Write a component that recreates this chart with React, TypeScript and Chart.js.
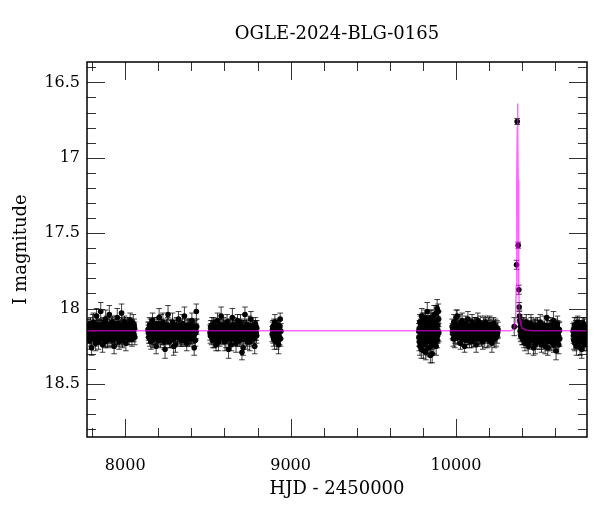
import React, { useEffect, useRef } from "react";
import { Chart, registerables } from "chart.js";

Chart.register(...registerables);

const TITLE = "OGLE-2024-BLG-0165";
const X_LABEL = "HJD - 2450000";
const Y_LABEL = "I magnitude";
const X_MIN = 7769;
const X_MAX = 10792;
const Y_MIN = 16.365;
const Y_MAX = 18.852;
const X_MAJOR = [8000, 9000, 10000];
const Y_MAJOR = [16.5, 17, 17.5, 18, 18.5];

type P = [number, number, number]; // [HJD-2450000, I mag, error]

const season1: P[] = [
  [7772,18.16,0.04],[7775,18.12,0.05],[7779,18.19,0.04],[7783,18.14,0.05],[7786,18.21,0.06],[7790,18.10,0.04],
  [7794,18.17,0.05],[7797,18.26,0.05],[7801,18.13,0.04],[7805,18.18,0.05],[7808,18.09,0.06],[7812,18.15,0.04],
  [7816,18.20,0.05],[7819,18.12,0.04],[7823,18.16,0.05],[7827,18.05,0.05],[7830,18.19,0.04],[7834,18.14,0.05],
  [7838,18.22,0.05],[7841,18.11,0.04],[7845,18.17,0.06],[7849,18.13,0.05],[7852,18.02,0.06],[7856,18.18,0.04],
  [7860,18.15,0.05],[7863,18.24,0.05],[7867,18.10,0.04],[7871,18.16,0.05],[7874,18.19,0.06],[7878,18.12,0.04],
  [7882,18.07,0.06],[7885,18.17,0.05],[7889,18.14,0.04],[7893,18.21,0.05],[7896,18.11,0.05],[7900,18.16,0.04],
  [7904,18.04,0.06],[7908,18.18,0.05],[7911,18.13,0.04],[7915,18.20,0.05],[7919,18.15,0.05],[7922,18.09,0.04],
  [7926,18.17,0.06],[7930,18.12,0.05],[7933,18.25,0.05],[7937,18.14,0.04],[7941,18.19,0.05],[7944,18.10,0.05],
  [7948,18.16,0.04],[7952,18.06,0.06],[7955,18.18,0.05],[7959,18.13,0.04],[7963,18.22,0.05],[7967,18.15,0.05],
  [7970,18.11,0.04],[7974,18.17,0.05],[7978,18.03,0.06],[7981,18.20,0.05],[7985,18.14,0.04],[7989,18.12,0.05],
  [7992,18.18,0.05],[7996,18.09,0.04],[8000,18.16,0.06],[8004,18.23,0.05],[8007,18.13,0.04],[8011,18.15,0.05],
  [8015,18.19,0.05],[8019,18.11,0.04],[8022,18.17,0.05],[8026,18.14,0.06],[8030,18.08,0.05],[8034,18.18,0.04],
  [8037,18.12,0.05],[8041,18.20,0.05],[8045,18.15,0.04],[8049,18.10,0.06],[8052,18.17,0.05],[8056,18.13,0.04],
  [7777,18.18,0.05],[7781,18.11,0.04],[7788,18.15,0.05],[7792,18.20,0.05],[7799,18.16,0.04],[7803,18.10,0.06],
  [7810,18.19,0.05],[7814,18.13,0.04],[7821,18.23,0.05],[7825,18.15,0.05],[7832,18.11,0.04],[7836,18.17,0.06],
  [7843,18.14,0.05],[7847,18.20,0.04],[7854,18.12,0.05],[7858,18.16,0.05],[7865,18.19,0.04],[7869,18.13,0.06],
  [7876,18.15,0.05],[7880,18.22,0.04],[7887,18.10,0.05],[7891,18.17,0.05],[7898,18.14,0.04],[7902,18.19,0.06],
  [7906,18.12,0.05],[7913,18.16,0.04],[7917,18.11,0.05],[7924,18.21,0.05],[7928,18.15,0.04],[7935,18.18,0.06],
  [7939,18.12,0.05],[7946,18.14,0.04],[7950,18.20,0.05],[7957,18.16,0.05],[7961,18.10,0.04],[7965,18.18,0.06],
  [7972,18.13,0.05],[7976,18.15,0.04],[7983,18.21,0.05],[7987,18.11,0.05],[7994,18.17,0.04],[7998,18.13,0.06],
  [8002,18.19,0.05],[8009,18.14,0.04],[8013,18.11,0.05],[8017,18.16,0.05],[8024,18.20,0.04],[8028,18.12,0.06],
  [8032,18.15,0.05],[8039,18.18,0.04],[8043,18.13,0.05],[8047,18.16,0.05],[8054,18.11,0.04],[8058,18.19,0.05],
];

const season2: P[] = [
  [8138,18.14,0.05],[8142,18.19,0.04],[8147,18.11,0.05],[8151,18.17,0.06],[8156,18.22,0.05],[8160,18.13,0.04],
  [8165,18.08,0.05],[8169,18.16,0.05],[8174,18.20,0.04],[8178,18.12,0.06],[8183,18.15,0.05],[8187,18.25,0.05],
  [8192,18.10,0.04],[8196,18.18,0.05],[8201,18.14,0.05],[8205,18.06,0.06],[8210,18.17,0.04],[8214,18.21,0.05],
  [8219,18.12,0.05],[8223,18.16,0.04],[8228,18.09,0.06],[8232,18.19,0.05],[8237,18.13,0.04],[8241,18.27,0.06],
  [8246,18.15,0.05],[8250,18.11,0.04],[8255,18.18,0.05],[8259,18.04,0.06],[8264,18.16,0.05],[8268,18.22,0.04],
  [8273,18.12,0.05],[8277,18.17,0.05],[8282,18.14,0.04],[8286,18.09,0.06],[8291,18.20,0.05],[8295,18.13,0.04],
  [8300,18.16,0.05],[8304,18.24,0.05],[8309,18.11,0.04],[8313,18.18,0.06],[8318,18.15,0.05],[8322,18.07,0.05],
  [8327,18.19,0.04],[8331,18.12,0.05],[8336,18.17,0.05],[8340,18.21,0.04],[8345,18.10,0.06],[8349,18.16,0.05],
  [8354,18.14,0.04],[8358,18.05,0.06],[8363,18.18,0.05],[8367,18.13,0.04],[8372,18.23,0.05],[8376,18.15,0.05],
  [8381,18.11,0.04],[8385,18.17,0.06],[8390,18.12,0.05],[8394,18.20,0.04],[8399,18.14,0.05],[8403,18.08,0.05],
  [8408,18.18,0.04],[8412,18.15,0.06],[8417,18.26,0.05],[8421,18.12,0.04],[8426,18.16,0.05],[8430,18.02,0.05],
  [8140,18.16,0.05],[8145,18.13,0.04],[8149,18.20,0.05],[8153,18.12,0.05],[8158,18.17,0.04],[8163,18.15,0.06],
  [8167,18.21,0.05],[8171,18.11,0.04],[8176,18.16,0.05],[8181,18.19,0.05],[8185,18.13,0.04],[8190,18.17,0.06],
  [8194,18.14,0.05],[8199,18.21,0.04],[8203,18.12,0.05],[8208,18.15,0.05],[8212,18.18,0.04],[8217,18.10,0.06],
  [8221,18.19,0.05],[8226,18.14,0.04],[8230,18.16,0.05],[8235,18.22,0.05],[8239,18.12,0.04],[8244,18.17,0.06],
  [8248,18.15,0.05],[8253,18.20,0.04],[8257,18.11,0.05],[8262,18.18,0.05],[8266,18.14,0.04],[8271,18.16,0.06],
  [8275,18.21,0.05],[8280,18.12,0.04],[8284,18.17,0.05],[8289,18.15,0.05],[8293,18.25,0.06],[8298,18.13,0.05],
  [8302,18.18,0.04],[8307,18.15,0.05],[8311,18.11,0.05],[8316,18.19,0.04],[8320,18.14,0.06],[8325,18.17,0.05],
  [8329,18.12,0.04],[8334,18.20,0.05],[8338,18.15,0.05],[8343,18.13,0.04],[8347,18.18,0.06],[8352,18.16,0.05],
  [8356,18.21,0.04],[8361,18.12,0.05],[8365,18.17,0.05],[8370,18.14,0.04],[8374,18.19,0.06],[8379,18.13,0.05],
  [8383,18.16,0.04],[8388,18.20,0.05],[8392,18.15,0.05],[8397,18.11,0.04],[8401,18.17,0.06],[8406,18.13,0.05],
  [8410,18.19,0.04],[8415,18.14,0.05],[8419,18.17,0.05],[8424,18.21,0.04],[8428,18.15,0.05],[8432,18.12,0.05],
];

const season3: P[] = [
  [8513,18.16,0.05],[8517,18.12,0.04],[8522,18.19,0.05],[8526,18.14,0.06],[8531,18.21,0.05],[8535,18.10,0.04],
  [8540,18.17,0.05],[8544,18.13,0.05],[8549,18.24,0.04],[8553,18.15,0.06],[8558,18.08,0.05],[8562,18.18,0.04],
  [8567,18.12,0.05],[8571,18.20,0.05],[8576,18.16,0.04],[8580,18.05,0.06],[8585,18.14,0.05],[8589,18.19,0.04],
  [8594,18.11,0.05],[8598,18.17,0.05],[8603,18.22,0.06],[8607,18.13,0.04],[8612,18.15,0.05],[8616,18.09,0.05],
  [8621,18.18,0.04],[8625,18.27,0.06],[8630,18.12,0.05],[8634,18.16,0.04],[8639,18.20,0.05],[8643,18.14,0.05],
  [8648,18.06,0.06],[8652,18.17,0.04],[8657,18.11,0.05],[8661,18.19,0.05],[8666,18.15,0.04],[8670,18.23,0.06],
  [8675,18.13,0.05],[8679,18.08,0.04],[8684,18.18,0.05],[8688,18.14,0.05],[8693,18.21,0.04],[8697,18.10,0.06],
  [8702,18.16,0.05],[8706,18.29,0.05],[8711,18.12,0.04],[8715,18.17,0.05],[8720,18.15,0.06],[8724,18.04,0.05],
  [8729,18.19,0.04],[8733,18.13,0.05],[8738,18.22,0.05],[8742,18.16,0.04],[8747,18.11,0.06],[8751,18.18,0.05],
  [8756,18.14,0.04],[8760,18.07,0.05],[8765,18.20,0.05],[8769,18.12,0.04],[8774,18.17,0.06],[8778,18.15,0.05],
  [8783,18.25,0.05],[8787,18.10,0.04],[8792,18.16,0.05],[8795,18.13,0.05],
  [8515,18.18,0.05],[8519,18.14,0.04],[8524,18.11,0.05],[8528,18.17,0.05],[8533,18.15,0.04],[8537,18.20,0.06],
  [8542,18.12,0.05],[8546,18.16,0.04],[8551,18.19,0.05],[8555,18.13,0.05],[8560,18.17,0.04],[8564,18.22,0.06],
  [8569,18.14,0.05],[8573,18.11,0.04],[8578,18.18,0.05],[8582,18.15,0.05],[8587,18.20,0.04],[8591,18.13,0.06],
  [8596,18.16,0.05],[8600,18.12,0.04],[8605,18.18,0.05],[8609,18.21,0.05],[8614,18.14,0.04],[8618,18.17,0.06],
  [8623,18.12,0.05],[8627,18.15,0.04],[8632,18.19,0.05],[8636,18.13,0.05],[8641,18.24,0.04],[8645,18.16,0.06],
  [8650,18.11,0.05],[8654,18.18,0.04],[8659,18.14,0.05],[8663,18.20,0.05],[8668,18.12,0.04],[8672,18.17,0.06],
  [8677,18.15,0.05],[8681,18.21,0.04],[8686,18.13,0.05],[8690,18.16,0.05],[8695,18.19,0.04],[8699,18.14,0.06],
  [8704,18.12,0.05],[8708,18.18,0.04],[8713,18.26,0.05],[8717,18.13,0.05],[8722,18.17,0.04],[8726,18.15,0.06],
  [8731,18.20,0.05],[8735,18.11,0.04],[8740,18.16,0.05],[8744,18.19,0.05],[8749,18.14,0.04],[8753,18.22,0.06],
  [8758,18.12,0.05],[8762,18.17,0.04],[8767,18.15,0.05],[8771,18.18,0.05],[8776,18.13,0.04],[8780,18.20,0.06],
  [8785,18.16,0.05],[8789,18.12,0.04],[8794,18.18,0.05],
];

const season4: P[] = [
  [8889,18.17,0.05],[8893,18.12,0.04],[8897,18.20,0.05],[8901,18.14,0.06],[8905,18.09,0.05],[8909,18.18,0.04],
  [8913,18.15,0.05],[8917,18.22,0.05],[8921,18.11,0.04],[8925,18.16,0.06],[8929,18.13,0.05],[8933,18.19,0.05],
  [8937,18.07,0.04],[8941,18.15,0.05],
  [8891,18.14,0.05],[8895,18.18,0.05],[8899,18.11,0.04],[8903,18.21,0.06],[8907,18.15,0.05],[8911,18.12,0.04],
  [8915,18.19,0.05],[8919,18.14,0.05],[8923,18.17,0.04],[8927,18.24,0.06],[8931,18.16,0.05],[8935,18.12,0.04],
  [8939,18.20,0.05],
];

const season5: P[] = [
  [9775,18.15,0.05],[9778,18.22,0.06],[9781,18.09,0.05],[9784,18.18,0.06],[9787,18.12,0.05],[9790,18.27,0.06],
  [9793,18.05,0.05],[9796,18.16,0.06],[9799,18.20,0.05],[9802,18.11,0.06],[9805,18.24,0.05],[9808,18.14,0.06],
  [9811,18.08,0.05],[9814,18.19,0.06],[9817,18.29,0.05],[9820,18.13,0.06],[9823,18.17,0.05],[9826,18.02,0.06],
  [9829,18.21,0.05],[9832,18.15,0.06],[9835,18.10,0.05],[9838,18.26,0.06],[9841,18.18,0.05],[9844,18.12,0.06],
  [9847,18.06,0.05],[9850,18.23,0.06],[9853,18.16,0.05],[9856,18.30,0.06],[9859,18.11,0.05],[9862,18.19,0.06],
  [9865,18.14,0.05],[9868,18.04,0.06],[9871,18.21,0.05],[9874,18.17,0.06],[9877,18.09,0.05],[9880,18.25,0.06],
  [9883,18.13,0.05],[9886,18.00,0.06],[9889,18.18,0.05],[9892,18.15,0.06],[9895,18.07,0.05],
  [9776,18.19,0.06],[9779,18.13,0.05],[9782,18.25,0.06],[9785,18.10,0.05],[9788,18.17,0.06],[9791,18.14,0.05],
  [9794,18.21,0.06],[9797,18.08,0.05],[9800,18.16,0.06],[9803,18.28,0.05],[9806,18.12,0.06],[9809,18.19,0.05],
  [9812,18.15,0.06],[9815,18.06,0.05],[9818,18.22,0.06],[9821,18.17,0.05],[9824,18.11,0.06],[9827,18.26,0.05],
  [9830,18.14,0.06],[9833,18.18,0.05],[9836,18.09,0.06],[9839,18.20,0.05],[9842,18.15,0.06],[9845,18.31,0.05],
  [9848,18.13,0.06],[9851,18.18,0.05],[9854,18.07,0.06],[9857,18.22,0.05],[9860,18.16,0.06],[9863,18.12,0.05],
  [9866,18.24,0.06],[9869,18.15,0.05],[9872,18.10,0.06],[9875,18.19,0.05],[9878,18.13,0.06],[9881,18.03,0.05],
  [9884,18.17,0.06],[9887,18.21,0.05],[9890,18.11,0.06],[9893,18.02,0.05],[9896,18.16,0.06],
];

const season6: P[] = [
  [9977,18.12,0.05],[9982,18.17,0.04],[9987,18.09,0.05],[9992,18.20,0.06],[9997,18.14,0.05],[10002,18.06,0.05],
  [10007,18.05,0.04],[10012,18.18,0.05],[10017,18.11,0.06],[10022,18.15,0.05],[10027,18.23,0.04],[10032,18.13,0.05],
  [10037,18.08,0.05],[10042,18.19,0.06],[10047,18.16,0.05],[10052,18.25,0.04],[10057,18.10,0.05],[10062,18.14,0.05],
  [10067,18.18,0.06],[10072,18.07,0.05],[10077,18.15,0.04],[10082,18.21,0.05],[10087,18.12,0.05],[10092,18.17,0.06],
  [10097,18.09,0.05],[10102,18.14,0.04],[10107,18.20,0.05],[10112,18.11,0.05],[10117,18.16,0.06],[10122,18.24,0.05],
  [10127,18.13,0.04],[10132,18.08,0.05],[10137,18.18,0.05],[10142,18.15,0.06],[10147,18.10,0.05],[10152,18.19,0.04],
  [10157,18.14,0.05],[10162,18.22,0.05],[10167,18.12,0.06],[10172,18.16,0.05],[10177,18.09,0.04],[10182,18.17,0.05],
  [10187,18.13,0.05],[10192,18.20,0.06],[10197,18.11,0.05],[10202,18.15,0.04],[10207,18.18,0.05],[10212,18.12,0.05],
  [10217,18.23,0.06],[10222,18.14,0.05],[10227,18.10,0.04],[10232,18.17,0.05],[10237,18.15,0.05],[10242,18.19,0.06],
  [10247,18.13,0.05],[10252,18.16,0.04],
  [9979,18.15,0.05],[9984,18.20,0.05],[9989,18.13,0.04],[9994,18.17,0.06],[9999,18.11,0.05],[10004,18.16,0.04],
  [10009,18.19,0.05],[10014,18.13,0.05],[10019,18.17,0.04],[10024,18.10,0.06],[10029,18.15,0.05],[10034,18.20,0.04],
  [10039,18.14,0.05],[10044,18.12,0.05],[10049,18.18,0.04],[10054,18.15,0.06],[10059,18.21,0.05],[10064,18.11,0.04],
  [10069,18.16,0.05],[10074,18.19,0.05],[10079,18.13,0.04],[10084,18.17,0.06],[10089,18.15,0.05],[10094,18.22,0.04],
  [10099,18.12,0.05],[10104,18.17,0.05],[10109,18.14,0.04],[10114,18.19,0.06],[10119,18.11,0.05],[10124,18.16,0.04],
  [10129,18.20,0.05],[10134,18.14,0.05],[10139,18.12,0.04],[10144,18.18,0.06],[10149,18.15,0.05],[10154,18.21,0.04],
  [10159,18.13,0.05],[10164,18.17,0.05],[10169,18.14,0.04],[10174,18.20,0.06],[10179,18.12,0.05],[10184,18.16,0.04],
  [10189,18.18,0.05],[10194,18.14,0.05],[10199,18.21,0.04],[10204,18.11,0.06],[10209,18.16,0.05],[10214,18.19,0.04],
  [10219,18.13,0.05],[10224,18.17,0.05],[10229,18.15,0.04],[10234,18.20,0.06],[10239,18.12,0.05],[10244,18.16,0.04],
  [10249,18.18,0.05],[10254,18.14,0.05],
];

const season7: P[] = [
  [10352,18.12,0.06],
  [10366,17.71,0.03],[10370,16.76,0.02],[10376,17.58,0.02],[10380,17.875,0.03],[10382,17.99,0.03],[10384,18.05,0.04],
  [10386,18.08,0.04],[10389,18.12,0.05],[10393,18.10,0.04],[10397,18.16,0.05],[10401,18.13,0.05],[10405,18.20,0.04],
  [10409,18.11,0.05],[10413,18.17,0.06],[10417,18.23,0.05],[10421,18.14,0.04],[10425,18.09,0.05],[10429,18.18,0.05],
  [10433,18.15,0.06],[10437,18.25,0.05],[10441,18.12,0.04],[10445,18.19,0.05],[10449,18.16,0.05],[10453,18.10,0.06],
  [10457,18.21,0.05],[10461,18.14,0.04],[10465,18.17,0.05],[10469,18.26,0.05],[10473,18.13,0.06],[10477,18.18,0.05],
  [10481,18.11,0.04],[10485,18.15,0.05],[10489,18.22,0.05],[10493,18.12,0.06],[10497,18.17,0.05],[10501,18.14,0.04],
  [10505,18.19,0.05],[10509,18.09,0.05],[10513,18.16,0.06],[10517,18.24,0.05],[10521,18.13,0.04],[10525,18.18,0.05],
  [10529,18.15,0.05],[10533,18.11,0.06],[10537,18.20,0.05],[10541,18.14,0.04],[10545,18.17,0.05],[10549,18.06,0.05],
  [10553,18.22,0.06],[10557,18.13,0.05],[10561,18.19,0.04],[10565,18.15,0.05],[10569,18.21,0.06],[10573,18.11,0.05],
  [10577,18.17,0.04],[10581,18.14,0.05],[10585,18.21,0.05],[10589,18.08,0.06],[10593,18.16,0.05],[10597,18.19,0.04],
  [10601,18.12,0.05],[10605,18.28,0.06],[10609,18.15,0.06],[10613,18.10,0.05],[10617,18.18,0.04],[10621,18.24,0.06],
  [10625,18.14,0.05],
  [10388,18.15,0.05],[10391,18.18,0.04],[10395,18.13,0.05],[10399,18.19,0.05],[10403,18.11,0.04],[10407,18.16,0.06],
  [10411,18.21,0.05],[10415,18.14,0.04],[10419,18.17,0.05],[10423,18.12,0.05],[10427,18.20,0.04],[10431,18.15,0.06],
  [10435,18.18,0.05],[10439,18.13,0.04],[10443,18.22,0.05],[10447,18.14,0.05],[10451,18.17,0.04],[10455,18.12,0.06],
  [10459,18.19,0.05],[10463,18.15,0.04],[10467,18.21,0.05],[10471,18.13,0.05],[10475,18.16,0.04],[10479,18.24,0.06],
  [10483,18.14,0.05],[10487,18.18,0.04],[10491,18.15,0.05],[10495,18.20,0.05],[10499,18.12,0.04],[10503,18.17,0.06],
  [10507,18.22,0.05],[10511,18.14,0.04],[10515,18.19,0.05],[10519,18.16,0.05],[10523,18.13,0.04],[10527,18.21,0.06],
  [10531,18.17,0.05],[10535,18.14,0.04],[10539,18.25,0.05],[10543,18.15,0.05],[10547,18.19,0.04],[10551,18.12,0.06],
  [10555,18.26,0.05],[10559,18.16,0.04],[10563,18.20,0.05],[10567,18.13,0.05],[10571,18.18,0.04],[10575,18.22,0.06],
  [10579,18.15,0.05],[10583,18.12,0.04],[10587,18.19,0.05],[10591,18.24,0.05],[10595,18.14,0.04],[10599,18.17,0.06],
  [10603,18.21,0.05],[10607,18.16,0.04],[10611,18.19,0.05],[10615,18.13,0.05],[10619,18.18,0.04],[10623,18.15,0.06],
  [10627,18.20,0.05],
];

const season8: P[] = [
  [10708,18.15,0.05],[10712,18.21,0.06],[10716,18.11,0.05],[10720,18.18,0.04],[10724,18.13,0.05],[10728,18.25,0.06],
  [10732,18.16,0.05],[10736,18.09,0.04],[10740,18.19,0.05],[10744,18.14,0.06],[10748,18.22,0.05],[10752,18.12,0.04],
  [10756,18.17,0.05],[10760,18.27,0.06],[10764,18.15,0.05],[10768,18.10,0.04],[10772,18.20,0.05],[10776,18.13,0.06],
  [10780,18.18,0.05],[10784,18.16,0.04],[10788,18.23,0.05],
  [10710,18.18,0.05],[10714,18.13,0.04],[10718,18.23,0.05],[10722,18.16,0.06],[10726,18.11,0.05],[10730,18.19,0.04],
  [10734,18.14,0.05],[10738,18.21,0.05],[10742,18.17,0.04],[10746,18.12,0.06],[10750,18.26,0.05],[10754,18.15,0.04],
  [10758,18.19,0.05],[10762,18.13,0.05],[10766,18.22,0.04],[10770,18.16,0.06],[10774,18.11,0.05],[10778,18.24,0.04],
  [10782,18.14,0.05],[10786,18.19,0.05],[10790,18.15,0.04],
];

const modelT = [
  7769, 10300, 10330, 10345, 10352, 10357, 10361, 10364, 10366.5, 10368.5, 10370.5, 10372,
  10373.5, 10375.5, 10377.5, 10380, 10383, 10387, 10392, 10400, 10420, 10460, 10792,
];
const modelMag = [
  18.148, 18.148, 18.147, 18.14, 18.125, 18.09, 18.02, 17.85, 17.55, 17.15, 16.8, 16.64,
  16.8, 17.15, 17.55, 17.85, 18.02, 18.08, 18.11, 18.13, 18.142, 18.147, 18.148,
];

const allSeasons = [season1, season2, season3, season4, season5, season6, season7, season8];

const FONT = "'DejaVu Serif', 'Liberation Serif', serif";

const framePlugin = {
  id: "frameTicks",
  beforeDatasetsDraw(chart: any) {
    const { ctx, chartArea: a, scales } = chart;
    const xs = scales.x, ys = scales.y;
    const data = chart.data.datasets[1].data as any[];
    ctx.save();
    ctx.beginPath();
    ctx.rect(a.left, a.top, a.right - a.left, a.bottom - a.top);
    ctx.clip();
    ctx.strokeStyle = "rgba(0,0,0,0.75)";
    ctx.lineWidth = 1;
    ctx.beginPath();
    for (const d of data) {
      const px = xs.getPixelForValue(d.x);
      const y1 = ys.getPixelForValue(d.y - d.e);
      const y2 = ys.getPixelForValue(d.y + d.e);
      ctx.moveTo(px, y1);
      ctx.lineTo(px, y2);
      ctx.moveTo(px - 2.8, y1);
      ctx.lineTo(px + 2.8, y1);
      ctx.moveTo(px - 2.8, y2);
      ctx.lineTo(px + 2.8, y2);
    }
    ctx.stroke();
    ctx.restore();
  },
  afterDraw(chart: any) {
    const { ctx, chartArea: a, scales } = chart;
    const xs = scales.x, ys = scales.y;
    ctx.save();
    ctx.strokeStyle = "rgba(0,0,0,0.8)";
    ctx.lineWidth = 1;
    const major = 18, minor = 9;
    ctx.beginPath();
    for (let v = 7800; v <= 10700; v += 200) {
      const len = X_MAJOR.includes(v) ? major : minor;
      const px = Math.round(xs.getPixelForValue(v)) + 0.5;
      ctx.moveTo(px, a.bottom); ctx.lineTo(px, a.bottom - len);
      ctx.moveTo(px, a.top); ctx.lineTo(px, a.top + len);
    }
    for (let k = 164; k <= 188; k++) {
      const v = k / 10;
      const len = k % 5 === 0 ? major : minor;
      const py = Math.round(ys.getPixelForValue(v)) + 0.5;
      ctx.moveTo(a.left, py); ctx.lineTo(a.left + len, py);
      ctx.moveTo(a.right, py); ctx.lineTo(a.right - len, py);
    }
    ctx.stroke();
    ctx.strokeStyle = "#000";
    ctx.lineWidth = 1.5;
    ctx.strokeRect(a.left, a.top, a.right - a.left, a.bottom - a.top);
    ctx.fillStyle = "#000";
    ctx.font = `18px ${FONT}`;
    ctx.textAlign = "center";
    ctx.textBaseline = "middle";
    ctx.fillText(TITLE, (a.left + a.right) / 2, 34);
    ctx.restore();
  },
};

export default function App() {
  const ref = useRef<HTMLCanvasElement | null>(null);
  useEffect(() => {
    document.body.style.margin = "0";
    const points = allSeasons.flat().map(([t, m, e]) => ({ x: t, y: m, e }));
    const model = modelT.map((t, i) => ({ x: t, y: modelMag[i] }));
    const chart = new Chart(ref.current as HTMLCanvasElement, {
      type: "scatter",
      data: {
        datasets: [
          {
            type: "line",
            data: model,
            borderColor: "rgba(255,0,255,0.6)",
            borderWidth: 1.5,
            pointRadius: 0,
            showLine: true,
            tension: 0,
            order: 0,
          } as any,
          {
            type: "scatter",
            data: points,
            pointRadius: 2.8,
            pointHoverRadius: 2.8,
            backgroundColor: "#000",
            borderWidth: 0,
            order: 1,
          } as any,
        ],
      },
      options: {
        animation: false,
        responsive: false,
        events: [],
        layout: { padding: { top: 62, right: 13, left: 0, bottom: 0 } },
        plugins: { legend: { display: false }, tooltip: { enabled: false }, title: { display: false } },
        scales: {
          x: {
            type: "linear",
            min: X_MIN,
            max: X_MAX,
            grid: { display: false, drawTicks: false },
            border: { display: false },
            afterBuildTicks: (s: any) => { s.ticks = X_MAJOR.map((v) => ({ value: v })); },
            afterFit: (s: any) => { s.height = 75; },
            ticks: { color: "#000", font: { family: FONT, size: 16 }, padding: 19, maxRotation: 0, callback: (v: any) => String(v) },
            title: { display: true, text: X_LABEL, color: "#000", font: { family: FONT, size: 18 }, padding: { top: 0, bottom: 12 } },
          },
          y: {
            type: "linear",
            reverse: true,
            min: Y_MIN,
            max: Y_MAX,
            grid: { display: false, drawTicks: false },
            border: { display: false },
            afterBuildTicks: (s: any) => { s.ticks = Y_MAJOR.map((v) => ({ value: v })); },
            afterFit: (s: any) => { s.width = 87; },
            ticks: { color: "#000", font: { family: FONT, size: 16 }, padding: 7, callback: (v: any) => String(v) },
            title: { display: true, text: Y_LABEL, color: "#000", font: { family: FONT, size: 18 }, padding: { top: 11, bottom: 0 } },
          },
        },
      },
      plugins: [framePlugin],
    });
    return () => chart.destroy();
  }, []);
  return <canvas ref={ref} width={600} height={512} />;
}
